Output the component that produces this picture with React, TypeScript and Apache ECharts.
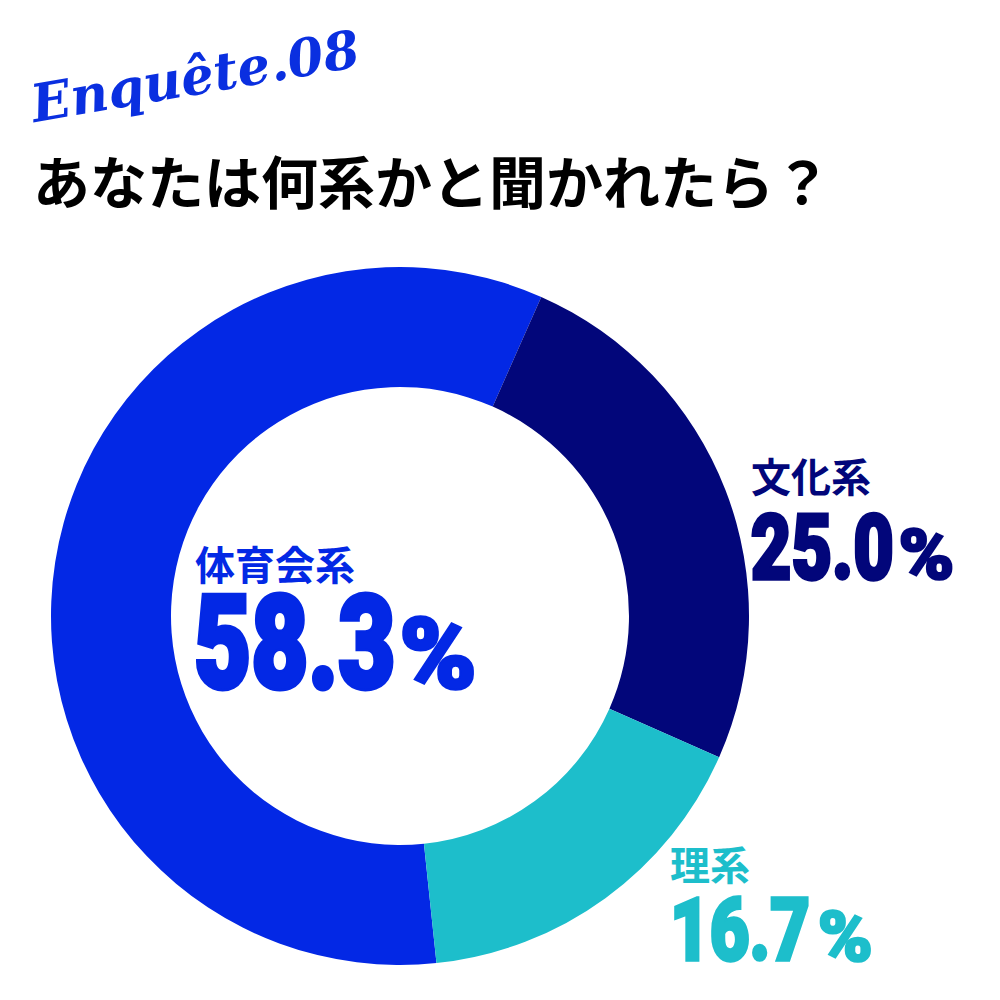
import React, { useEffect, useRef } from "react";
import * as echarts from "echarts";

// ---- data ----
const categories = ["体育会系", "文化系", "理系"];
const values = [58.3, 25.0, 16.7];
const colors = ["#0328E5", "#02067A", "#1DBECB"];
const surveyTag = "Enquête.08";
const question = "あなたは何系かと聞かれたら？";

// ---- label layout (positions only) ----
const labelLayout = [
  { x: 197, nameCy: 563, digitCy: 644, digitSize: 129, digitScale: 0.765, stroke: 5, pctX: 400, pctCy: 655, pctSize: 98 },
  { x: 753, nameCy: 475, digitCy: 548, digitSize: 91, digitScale: 0.77, stroke: 3.5, pctX: 899, pctCy: 555, pctSize: 71 },
  { x: 672, nameCy: 863, digitCy: 930, digitSize: 88, digitScale: 0.78, stroke: 3.5, pctX: 818, pctCy: 937, pctSize: 70 },
];

export default function App() {
  const ref = useRef<HTMLDivElement>(null);
  useEffect(() => {
    if (!ref.current) return;
    const chart = echarts.init(ref.current, null, { renderer: "svg" });

    const labelEls: any[] = [];
    categories.forEach((name, i) => {
      const L = labelLayout[i];
      labelEls.push({
        type: "text",
        x: L.x - 2,
        y: L.nameCy,
        style: {
          text: name,
          fill: colors[i],
          fontFamily: "Noto Sans CJK JP",
          fontWeight: "bold",
          fontSize: 40,
          align: "left",
          verticalAlign: "middle",
          textAlign: "left",
          textVerticalAlign: "middle",
        },
      });
      labelEls.push({
        type: "text",
        x: L.x - L.digitSize * 0.05 * L.digitScale + (L.stroke / 2) * L.digitScale,
        y: L.digitCy,
        scaleX: L.digitScale,
        style: {
          text: values[i].toFixed(1),
          fill: colors[i],
          stroke: colors[i],
          lineWidth: L.stroke,
          fontFamily: "Roboto",
          fontWeight: 900,
          fontSize: L.digitSize,
          align: "left",
          verticalAlign: "middle",
          textAlign: "left",
          textVerticalAlign: "middle",
        },
      });
      labelEls.push({
        type: "text",
        x: L.pctX - L.pctSize * 0.03 + L.stroke / 2,
        y: L.pctCy,
        scaleX: 1.06,
        style: {
          text: "%",
          fill: colors[i],
          stroke: colors[i],
          lineWidth: L.stroke * 0.7,
          fontFamily: "Roboto",
          fontWeight: 900,
          fontSize: L.pctSize,
          align: "left",
          verticalAlign: "middle",
          textAlign: "left",
          textVerticalAlign: "middle",
        },
      });
    });

    chart.setOption({
      animation: false,
      backgroundColor: "#ffffff",
      series: [
        {
          type: "pie",
          center: [400, 616],
          radius: [229, 349],
          startAngle: 276,
          clockwise: true,
          silent: true,
          label: { show: false },
          labelLine: { show: false },
          emphasis: { disabled: true },
          itemStyle: { borderWidth: 0 },
          data: categories.map((name, i) => ({
            name,
            value: values[i],
            itemStyle: { color: colors[i] },
          })),
        },
      ],
      graphic: [
        {
          type: "text",
          x: 195,
          y: 76,
          rotation: 0.17,
          style: {
            text: surveyTag,
            fill: "#0A2FE0",
            fontFamily: "DejaVu Serif",
            fontWeight: "bold",
            fontStyle: "italic",
            fontSize: 52,
            align: "center",
            verticalAlign: "middle",
            textAlign: "center",
            textVerticalAlign: "middle",
          },
        },
        {
          type: "text",
          x: 33,
          y: 179,
          style: {
            text: question,
            fill: "#000000",
            fontFamily: "Noto Sans CJK JP",
            fontWeight: "bold",
            fontSize: 57,
            align: "left",
            verticalAlign: "middle",
            textAlign: "left",
            textVerticalAlign: "middle",
          },
        },
        ...labelEls,
      ],
    });
    return () => chart.dispose();
  }, []);
  return (
    <div
      ref={ref}
      style={{ position: "fixed", left: 0, top: 0, width: 1000, height: 1000, background: "#fff" }}
    />
  );
}
